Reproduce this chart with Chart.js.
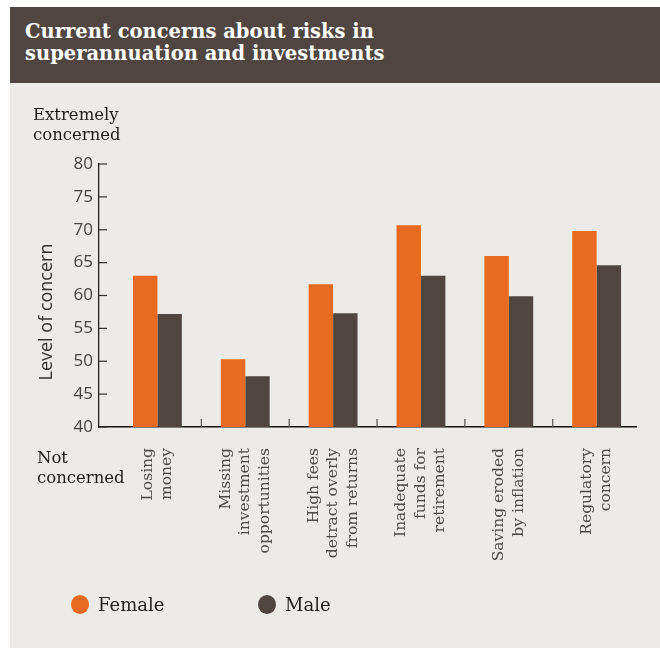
<!DOCTYPE html>
<html>
<head>
<meta charset="utf-8">
<script src="https://cdn.jsdelivr.net/npm/chart.js@4/dist/chart.umd.min.js"></script>
<style>
  html, body { margin: 0; padding: 0; background: #fff; }
  #wrap { position: relative; width: 660px; height: 648px; overflow: hidden; }
  #panel { position: absolute; left: 10px; top: 7px; width: 650px; height: 641px; background: #ecebe7; }
  #title {
    position: absolute; left: 10px; top: 7px; width: 635px; height: 62px;
    background: #4f4641; color: #fff; padding: 14px 0 0 15px;
    font: bold 19.5px/22px "DejaVu Serif", serif;
  }
  #chart { position: absolute; left: 0; top: 0; }
  #legend { position: absolute; left: 0; top: 594px; width: 660px; height: 24px; }
  .item { position: absolute; top: 0; font: 18px/20px "DejaVu Serif", serif; color: #222; }
  .item span.dot { position: absolute; left: 0; top: 1px; width: 18px; height: 19px; border-radius: 50%; }
  .item span.txt { position: absolute; left: 27px; top: 1px; white-space: nowrap; }
</style>
</head>
<body>
<div id="wrap">
  <div id="panel"></div>
  <div id="title">Current concerns about risks in<br>superannuation and investments</div>
  <canvas id="chart" width="660" height="648"></canvas>
  <div id="legend"></div>
</div>
<script>
// categories, split into the lines used under the axis
const categories = [
  ['Losing', 'money'],
  ['Missing', 'investment', 'opportunities'],
  ['High fees', 'detract overly', 'from returns'],
  ['Inadequate', 'funds for', 'retirement'],
  ['Saving eroded', 'by inflation'],
  ['Regulatory', 'concern']
];
const female = [63.0, 50.3, 61.7, 70.7, 66.0, 69.8];
const male = [57.2, 47.7, 57.3, 63.0, 59.9, 64.6];
const yTicks = [40, 45, 50, 55, 60, 65, 70, 75, 80];
const seriesNames = ['Female', 'Male'];
const seriesColors = ['#e96b22', '#4f4641'];

const serif = '"DejaVu Serif", serif';
const sans = '"Open Sans", sans-serif';

// inward ticks, category separators, rotated labels and side notes
const decor = {
  id: 'decor',
  afterDraw(chart) {
    const { ctx, chartArea, scales: { x, y } } = chart;
    ctx.save();
    ctx.strokeStyle = '#333';
    ctx.lineWidth = 1.2;
    yTicks.forEach(v => {
      const py = y.getPixelForValue(v);
      ctx.beginPath();
      ctx.moveTo(chartArea.left, py);
      ctx.lineTo(chartArea.left + 8, py);
      ctx.stroke();
    });
    ctx.strokeStyle = '#555';
    for (let i = 0; i < categories.length - 1; i++) {
      const px = x.getPixelForValue(i + 0.5);
      ctx.beginPath();
      ctx.moveTo(px, chartArea.bottom);
      ctx.lineTo(px, chartArea.bottom - 8);
      ctx.stroke();
    }

    // x labels
    ctx.fillStyle = '#4a4a4a';
    ctx.font = '15.5px ' + serif;
    ctx.textAlign = 'right';
    ctx.textBaseline = 'middle';
    const lh = 19.5;
    categories.forEach((lines, i) => {
      const cx = x.getPixelForValue(i);
      lines.forEach((t, j) => {
        const lx = cx + (j - (lines.length - 1) / 2) * lh;
        ctx.save();
        ctx.translate(lx, chartArea.bottom + 21);
        ctx.rotate(-Math.PI / 2);
        ctx.fillText(t, 0, 0);
        ctx.restore();
      });
    });

    // y title
    ctx.fillStyle = '#333';
    ctx.font = '18px ' + sans;
    ctx.textAlign = 'center';
    ctx.save();
    ctx.translate(47, 312);
    ctx.rotate(-Math.PI / 2);
    ctx.fillText('Level of concern', 0, 0);
    ctx.restore();

    // ends of the scale
    ctx.fillStyle = '#1e1e1e';
    ctx.font = '16.5px ' + serif;
    ctx.textAlign = 'left';
    ctx.textBaseline = 'alphabetic';
    ctx.fillText('Extremely', 33, 120);
    ctx.fillText('concerned', 33, 140);
    ctx.fillText('Not', 37, 463);
    ctx.fillText('concerned', 37, 483);
    ctx.restore();
  }
};

const ctx = document.getElementById('chart').getContext('2d');
const chart = new Chart(ctx, {
  type: 'bar',
  data: {
    datasets: [
      {
        label: seriesNames[0],
        data: female.map((v, i) => ({ x: i, y: v })),
        backgroundColor: seriesColors[0]
      },
      {
        label: seriesNames[1],
        data: male.map((v, i) => ({ x: i, y: v })),
        backgroundColor: seriesColors[1]
      }
    ]
  },
  options: {
    responsive: false,
    animation: false,
    barPercentage: 1,
    categoryPercentage: 0.556,
    layout: { padding: { left: 8, top: 164, right: 24, bottom: 220 } },
    plugins: {
      legend: { display: false },
      tooltip: { enabled: false }
    },
    scales: {
      x: {
        type: 'linear',
        offset: false,
        min: -0.665,
        max: 5.448,
        ticks: { display: false },
        grid: { display: false },
        border: { display: true, color: '#111', width: 1.5 },
        afterFit(scale) { scale.height = 1; }
      },
      y: {
        min: 40,
        max: 80,
        afterBuildTicks(scale) { scale.ticks = yTicks.map(v => ({ value: v })); },
        ticks: { color: '#444', padding: 6, font: { family: sans, size: 17 } },
        grid: { drawOnChartArea: false, drawTicks: false },
        border: { display: true, color: '#222', width: 1.3 },
        afterFit(scale) { scale.width = 91; }
      }
    }
  },
  plugins: [decor]
});

// legend built from the datasets
const legendLeft = [71, 258];
const legend = document.getElementById('legend');
chart.data.datasets.forEach((ds, i) => {
  const item = document.createElement('div');
  item.className = 'item';
  item.style.left = legendLeft[i] + 'px';
  item.innerHTML = '<span class="dot" style="background:' + ds.backgroundColor + '"></span><span class="txt">' + ds.label + '</span>';
  legend.appendChild(item);
});
</script>
</body>
</html>
